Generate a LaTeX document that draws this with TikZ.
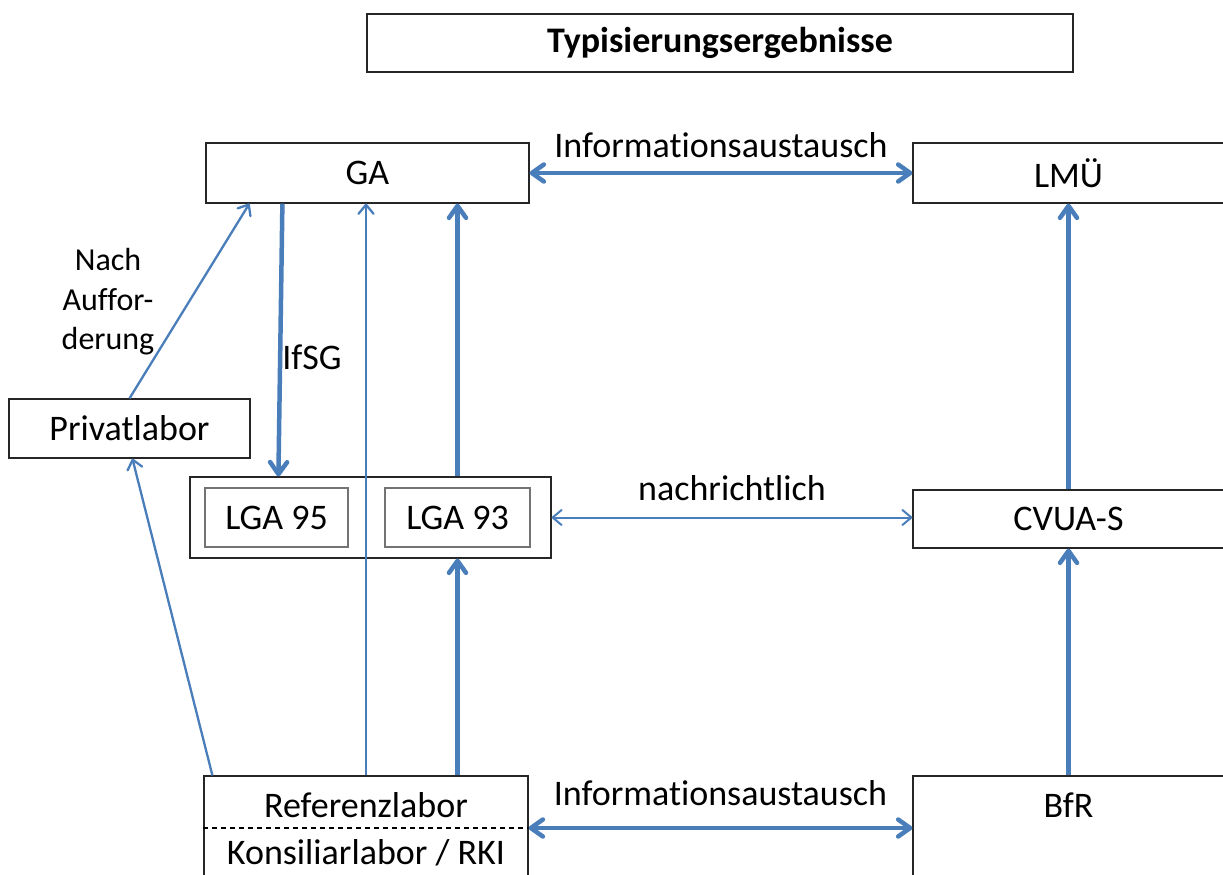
\documentclass[tikz,border=0pt]{standalone}
\usepackage{fontspec}
\setmainfont{Carlito}[Ligatures=NoCommon]
\usetikzlibrary{arrows.meta}
\definecolor{ablue}{HTML}{4A7EBB}
\begin{document}
\begin{tikzpicture}[x=1pt,y=-1pt,
  box/.style={draw=black!85, line width=1.2pt, inner sep=0pt, fill=white},
  innerbox/.style={draw=black!55, line width=1.2pt, inner sep=0pt},
  lbl/.style={font=\fontsize{36}{40}\selectfont, inner sep=0pt},
  small/.style={font=\fontsize{32}{39.5}\selectfont, inner sep=0pt, align=center},
  bigarrow/.style={draw=ablue, line width=4.5pt, -{Straight Barb[length=12pt,width=17pt,line cap=round,line join=round]}},
  bigdouble/.style={draw=ablue, line width=4.5pt, {Straight Barb[length=12pt,width=17pt,line cap=round,line join=round]}-{Straight Barb[length=12pt,width=17pt,line cap=round,line join=round]}},
  smallarrow/.style={draw=ablue, line width=2.3pt, -{Straight Barb[length=9pt,width=15pt,line cap=round,line join=round]}},
  smalldouble/.style={draw=ablue, line width=2pt, {Straight Barb[length=9pt,width=15pt,line cap=round,line join=round]}-{Straight Barb[length=9pt,width=15pt,line cap=round,line join=round]}}
]
\useasboundingbox (0,0) rectangle (1223,875);
\fill[white] (0,0) rectangle (1223,875);
\clip (0,0) rectangle (1223,875);

% boxes
\node[box, minimum width=706pt, minimum height=58pt, font=\fontsize{36}{40}\selectfont\bfseries] (title) at (720,43) {Typisierungsergebnisse};
\node[box, minimum width=323pt, minimum height=60pt, lbl] (ga) at (367.5,173) {GA};
\node[box, minimum width=311pt, minimum height=60pt, lbl] (lmu) at (1068.5,173) {LMÜ};
\node[box, minimum width=241pt, minimum height=59pt, lbl] (priv) at (129.5,428.5) {Privatlabor};
\node[box, minimum width=361pt, minimum height=81pt] (lgabox) at (370.5,517.5) {};
\node[innerbox, minimum width=143pt, minimum height=59pt, lbl] (l95) at (276.5,517.5) {LGA 95};
\node[innerbox, minimum width=145pt, minimum height=59pt, lbl] (l93) at (457.5,517.5) {LGA 93};
\node[box, minimum width=311pt, minimum height=58pt, lbl] (cvua) at (1068.5,519) {CVUA-S};
\node[box, minimum width=324pt, minimum height=104pt] (ref) at (366,828) {};
\node[box, minimum width=311pt, minimum height=104pt] (bfr) at (1068.5,828) {};
\node[lbl] (reftxt) at (366,805) {Referenzlabor};
\node[lbl] (kontxt) at (366,853) {Konsiliarlabor / RKI};
\node[lbl] (bfrtxt) at (1068.5,805) {BfR};
\draw[dashed, line width=1.2pt, dash pattern=on 5pt off 4pt] (ref.west) -- (ref.east);

% connectors
\draw[bigdouble] (ga.east) -- (lmu.west) node[midway, above=13pt, lbl] (info1) {Informat\kern0pt ionsaustausch};
\draw[smalldouble] (lgabox.east) -- (lgabox.east -| cvua.west) node[midway, above=16pt, lbl] (nachr) {nachrichtlich};
\draw[bigdouble] (ref.east) -- (bfr.west) node[midway, above=20pt, lbl] (info2) {Informat\kern0pt ionsaustausch};

\draw[bigarrow] ([xshift=77pt]ga.south west) -- ([xshift=89pt]lgabox.north west);
\node[lbl] (ifsg) at (312,357) {IfSG};
\draw[bigarrow] (l93 |- lgabox.north) -- (l93 |- ga.south);
\draw[bigarrow] (l93 |- ref.north) -- (l93 |- lgabox.south);
\draw[smallarrow] (ref.north) -- (ref.north |- ga.south);
\draw[smallarrow] ([xshift=9pt]ref.north west) -- ([xshift=124pt]priv.south west);
\draw[smallarrow] (priv.north) -- ([xshift=44pt]ga.south west);
\node[small] (nach) at (108,302) {Nach\\Auffor-\\derung};
\draw[bigarrow] (bfr.north) -- (cvua.south);
\draw[bigarrow] (cvua.north) -- (lmu.south);
\end{tikzpicture}
\end{document}
